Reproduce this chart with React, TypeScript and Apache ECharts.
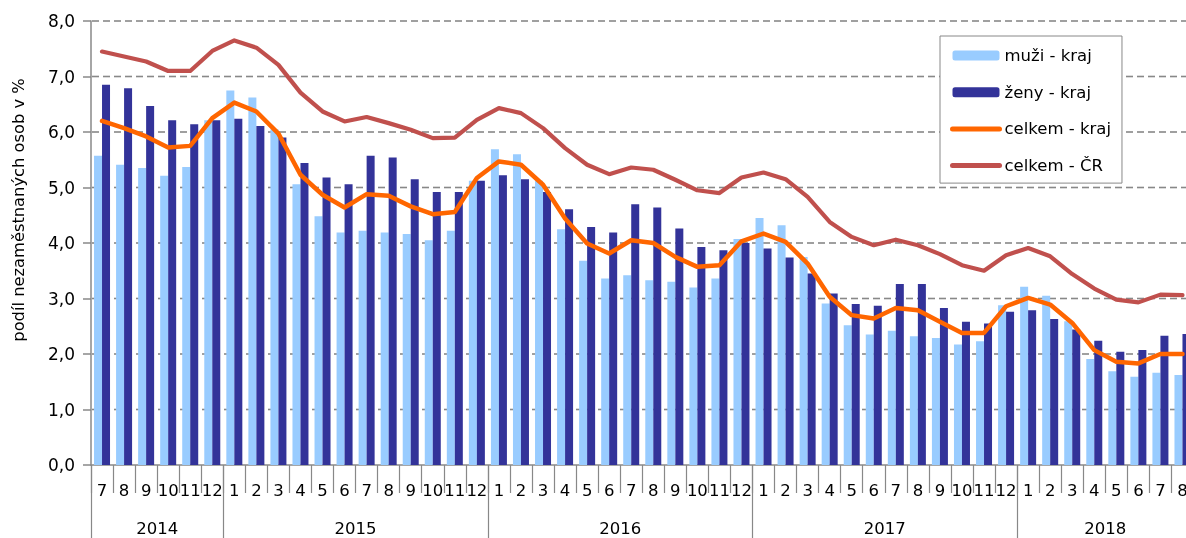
import React, { useEffect, useRef } from 'react';
import * as echarts from 'echarts';

const months = [
  '7', '8', '9', '10', '11', '12',
  '1', '2', '3', '4', '5', '6', '7', '8', '9', '10', '11', '12',
  '1', '2', '3', '4', '5', '6', '7', '8', '9', '10', '11', '12',
  '1', '2', '3', '4', '5', '6', '7', '8', '9', '10', '11', '12',
  '1', '2', '3', '4', '5', '6', '7', '8',
];
const years = ['2014', '2015', '2016', '2017', '2018'];
const yTicks = [0, 1, 2, 3, 4, 5, 6, 7, 8];

const muziKraj = [
  5.57, 5.41, 5.35, 5.21, 5.37, 6.21,
  6.75, 6.62, 6.05, 5.06, 4.48, 4.19, 4.22, 4.19, 4.16, 4.05, 4.22, 5.12,
  5.69, 5.60, 5.12, 4.25, 3.68, 3.36, 3.42, 3.33, 3.30, 3.20, 3.36, 4.07,
  4.45, 4.32, 3.75, 2.91, 2.52, 2.35, 2.42, 2.32, 2.29, 2.17, 2.23, 2.88,
  3.21, 3.05, 2.59, 1.91, 1.69, 1.59, 1.66, 1.62,
];
const zenyKraj = [
  6.85, 6.79, 6.47, 6.21, 6.14, 6.21,
  6.24, 6.11, 5.90, 5.44, 5.18, 5.06, 5.57, 5.54, 5.15, 4.92, 4.92, 5.12,
  5.22, 5.15, 4.92, 4.61, 4.29, 4.19, 4.70, 4.64, 4.26, 3.93, 3.87, 4.00,
  3.90, 3.74, 3.45, 3.09, 2.90, 2.87, 3.26, 3.26, 2.83, 2.58, 2.55, 2.76,
  2.79, 2.63, 2.44, 2.24, 2.04, 2.07, 2.33, 2.36,
];
const celkemKraj = [
  6.20, 6.07, 5.92, 5.72, 5.75, 6.25,
  6.53, 6.37, 5.97, 5.23, 4.87, 4.64, 4.88, 4.85, 4.66, 4.52, 4.56, 5.17,
  5.47, 5.41, 5.05, 4.44, 3.99, 3.81, 4.05, 4.00, 3.75, 3.57, 3.60, 4.03,
  4.17, 4.02, 3.63, 3.03, 2.70, 2.64, 2.83, 2.79, 2.58, 2.38, 2.38, 2.86,
  3.01, 2.89, 2.56, 2.07, 1.86, 1.83, 2.00, 2.00,
];
const celkemCR = [
  7.45, 7.36, 7.27, 7.10, 7.10, 7.46,
  7.65, 7.52, 7.21, 6.71, 6.37, 6.19, 6.27, 6.16, 6.04, 5.89, 5.90, 6.22,
  6.43, 6.34, 6.07, 5.71, 5.41, 5.24, 5.36, 5.32, 5.14, 4.95, 4.90, 5.18,
  5.27, 5.15, 4.83, 4.38, 4.11, 3.96, 4.06, 3.96, 3.80, 3.60, 3.50, 3.78,
  3.91, 3.76, 3.44, 3.18, 2.98, 2.93, 3.07, 3.06,
];

const FONT = 'DejaVu Sans';
const ORANGE = '#FF6600';
const RED = '#C0504D';
const GRID_GRAY = '#888888';
const DASH = 7;
const GAP = 4;

export default function App() {
  const ref = useRef<HTMLDivElement>(null);

  useEffect(() => {
    const chart = echarts.init(ref.current!, null, { renderer: 'svg' });

    const starts: number[] = [0];
    months.forEach((m, i) => {
      if (m === '1' && i > 0) starts.push(i);
    });
    const ends = [...starts.slice(1), months.length];
    const slotCount = months.length * 2 + 1;
    const yearData: string[] = Array.from({ length: slotCount }, () => '');
    const centerSlots = new Set<number>();
    const boundarySlots = new Set<number>();
    starts.forEach((s, k) => {
      yearData[s + ends[k]] = years[k];
      centerSlots.add(s + ends[k]);
      boundarySlots.add(2 * s);
    });
    boundarySlots.add(2 * months.length);

    // dashed horizontal grid lines at each y tick, positioned by the y scale
    const gridRender = (params: any, api: any) => {
      const cs = params.coordSys;
      const y = api.coord([0, api.value(1)])[1];
      const children: any[] = [];
      for (let x = cs.x + 1; x < cs.x + cs.width; x += DASH + GAP) {
        children.push({
          type: 'line',
          shape: { x1: x, y1: y, x2: Math.min(x + DASH, cs.x + cs.width), y2: y },
          style: { stroke: GRID_GRAY, lineWidth: 1.6 },
          silent: true,
        });
      }
      return { type: 'group', children };
    };

    chart.setOption({
      animation: false,
      textStyle: { fontFamily: FONT },
      grid: {
        left: 91,
        right: -7.5,
        top: 21,
        bottom: 73,
        containLabel: false,
        outerBoundsMode: 'none',
      },
      legend: {
        orient: 'vertical',
        left: 940,
        top: 36,
        padding: [11, 11, 9, 10],
        itemWidth: 47,
        itemHeight: 10,
        itemGap: 19.7,
        borderColor: GRID_GRAY,
        borderWidth: 1,
        backgroundColor: '#ffffff',
        z: 10,
        textStyle: { fontFamily: FONT, fontSize: 16.5, color: '#000' },
        data: [
          { name: 'muži - kraj' },
          { name: 'ženy - kraj' },
          {
            name: 'celkem - kraj',
            itemStyle: { opacity: 0 },
            lineStyle: { width: 5, cap: 'round', color: ORANGE },
          },
          {
            name: 'celkem - ČR',
            itemStyle: { opacity: 0 },
            lineStyle: { width: 5, cap: 'round', color: RED },
          },
        ],
      },
      xAxis: [
        {
          type: 'category',
          data: months,
          position: 'bottom',
          boundaryGap: true,
          axisLine: { show: true, lineStyle: { color: GRID_GRAY, width: 1.5 } },
          axisTick: { show: true, interval: 0, length: 28, lineStyle: { color: GRID_GRAY, width: 1.2 } },
          axisLabel: { interval: 0, margin: 17, fontSize: 16.5, color: '#000', fontFamily: FONT },
          splitLine: { show: false },
        },
        {
          type: 'category',
          data: yearData,
          position: 'bottom',
          boundaryGap: false,
          axisLine: { show: false },
          axisTick: {
            show: true,
            length: 73,
            interval: (index: number) => boundarySlots.has(index),
            lineStyle: { color: GRID_GRAY, width: 1.2 },
          },
          axisLabel: {
            show: true,
            interval: (index: number) => centerSlots.has(index),
            margin: 55,
            fontSize: 16.5,
            color: '#000',
            fontFamily: FONT,
          },
          splitLine: { show: false },
        },
      ],
      yAxis: {
        type: 'value',
        min: yTicks[0],
        max: yTicks[yTicks.length - 1],
        interval: 1,
        z: 5,
        axisLine: { show: true, lineStyle: { color: GRID_GRAY, width: 1.5 } },
        axisTick: { show: true, length: 8, lineStyle: { color: GRID_GRAY, width: 1.5 } },
        axisLabel: {
          margin: 16,
          fontSize: 17,
          color: '#000',
          fontFamily: FONT,
          formatter: (v: number) => v.toFixed(1).replace('.', ','),
        },
        splitLine: { show: false },
      },
      graphic: [
        {
          type: 'text',
          x: 18,
          y: 210,
          rotation: Math.PI / 2,
          style: {
            text: 'podíl nezaměstnaných osob v %',
            fontFamily: FONT,
            fontSize: 16.3,
            fill: '#000',
            align: 'center',
            verticalAlign: 'middle',
          },
        },
      ],
      series: [
        {
          name: 'mřížka',
          type: 'custom',
          renderItem: gridRender,
          data: yTicks.slice(1).map((v) => [0, v]),
          encode: { x: 0, y: 1 },
          silent: true,
          z: 1,
          clip: false,
        },
        {
          name: 'muži - kraj',
          type: 'bar',
          data: muziKraj,
          barWidth: 8,
          barGap: '0%',
          itemStyle: { color: '#99CCFF' },
          z: 2,
        },
        {
          name: 'ženy - kraj',
          type: 'bar',
          data: zenyKraj,
          barWidth: 8,
          barGap: '0%',
          itemStyle: { color: '#333399' },
          z: 2,
        },
        {
          name: 'celkem - kraj',
          type: 'line',
          data: celkemKraj,
          symbol: 'none',
          lineStyle: { color: ORANGE, width: 4.5, cap: 'round', join: 'round' },
          itemStyle: { color: ORANGE },
          z: 4,
        },
        {
          name: 'celkem - ČR',
          type: 'line',
          data: celkemCR,
          symbol: 'none',
          lineStyle: { color: RED, width: 4.2, cap: 'round', join: 'round' },
          itemStyle: { color: RED },
          z: 3,
        },
      ],
    });

    return () => chart.dispose();
  }, []);

  return (
    <div
      ref={ref}
      style={{ position: 'fixed', left: 0, top: 0, width: 1186, height: 538 }}
    />
  );
}
